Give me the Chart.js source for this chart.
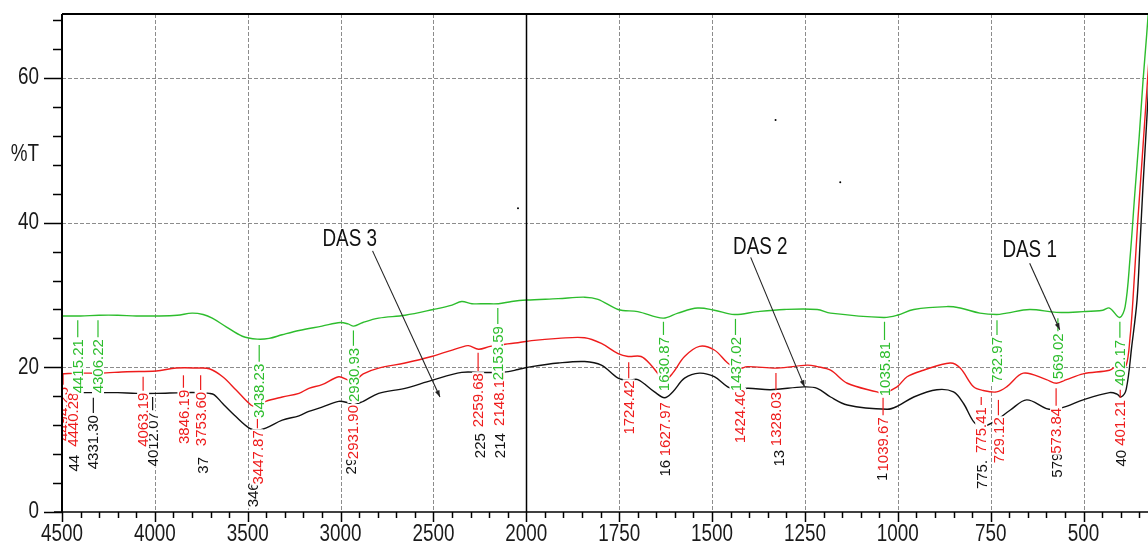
<!DOCTYPE html>
<html>
<head>
<meta charset="utf-8">
<script src="https://cdn.jsdelivr.net/npm/chart.js@4.4.1/dist/chart.umd.min.js"></script>
<style>
  html, body { margin: 0; padding: 0; background: #fff; overflow: hidden; }
  #wrap { width: 1170px; height: 548px; }
</style>
</head>
<body>
<div id="wrap"><canvas id="ftir" width="1170" height="548"></canvas></div>
<script>
// axis: 4500-2000 on the left half, 2000-end at double scale on the right
const X_START = 4500, X_BREAK = 2000, X_END = 278, RIGHT_GAIN = 2;
const Y_MAX = 68.85;
const xTicks = [4500, 4000, 3500, 3000, 2500, 2000, 1750, 1500, 1250, 1000, 750, 500];
const yTicks = [0, 20, 40, 60];

// spectra (wavenumber, %T)
const greenWn = [4500, 4400, 4300, 4200, 4100, 3993, 3880, 3800, 3740, 3691, 3616, 3529, 3449, 3385, 3315, 3224, 3100, 3001, 2960, 2929, 2880, 2795, 2653, 2500, 2400, 2348, 2293, 2221, 2150, 2079, 2000, 1914, 1843, 1807, 1753, 1700, 1632, 1592, 1539, 1494, 1440, 1378, 1306, 1217, 1181, 1038, 1002, 957, 868, 832, 779, 734, 707, 645, 573, 501, 448, 430, 403, 388, 375, 362, 350, 340, 330, 320];
const greenT  = [27.1, 27.1, 27.2, 27.2, 27.1, 27.1, 27.2, 27.5, 27.3, 26.8, 25.6, 24.3, 23.9, 24.0, 24.5, 25.1, 25.7, 26.2, 26.0, 25.7, 26.2, 26.8, 27.2, 28.0, 28.6, 29.1, 28.8, 28.8, 28.8, 29.1, 29.3, 29.5, 29.7, 29.4, 28.0, 27.7, 26.8, 27.5, 28.2, 27.9, 27.3, 27.7, 28.0, 28.0, 27.5, 26.9, 27.2, 28.0, 28.4, 28.2, 27.5, 27.3, 27.5, 28.0, 27.6, 27.7, 27.9, 28.2, 26.9, 28.4, 35, 44, 52, 59.5, 66, 73];

const redWn = [4500, 4400, 4296, 4150, 3993, 3885, 3770, 3707, 3635, 3564, 3483, 3450, 3403, 3314, 3224, 3171, 3100, 3010, 2965, 2930, 2878, 2795, 2653, 2510, 2348, 2312, 2257, 2195, 2115, 2045, 1986, 1914, 1843, 1798, 1753, 1726, 1691, 1664, 1640, 1625, 1606, 1574, 1534, 1494, 1458, 1430, 1405, 1324, 1244, 1217, 1181, 1136, 1056, 1040, 1002, 975, 931, 859, 832, 796, 770, 734, 707, 662, 600, 573, 546, 501, 430, 412, 400, 385, 375, 367, 355, 342, 330, 318];
const redT  = [19.1, 19.2, 19.2, 19.4, 19.5, 19.9, 19.9, 19.8, 18.7, 16.9, 14.8, 14.6, 15.3, 15.9, 16.4, 17.1, 17.6, 18.7, 18.3, 18.0, 19.1, 19.9, 20.6, 21.5, 22.8, 23.0, 22.5, 22.9, 23.2, 23.4, 23.7, 24.0, 24.1, 23.3, 21.9, 21.5, 21.5, 20.3, 18.8, 18.3, 19.2, 21.5, 22.9, 22.4, 20.6, 19.8, 20.1, 19.9, 20.3, 20.1, 19.6, 17.8, 16.6, 16.4, 17.3, 18.7, 19.6, 20.6, 19.9, 17.3, 16.8, 16.6, 17.3, 19.2, 18.3, 17.8, 18.3, 19.1, 19.6, 20.1, 19.8, 20.3, 24, 29.3, 39.4, 49, 58, 67];

const blackWn = [4500, 4400, 4300, 4200, 4100, 3993, 3850, 3760, 3707, 3680, 3635, 3564, 3492, 3450, 3403, 3314, 3224, 3171, 3100, 3010, 2960, 2930, 2878, 2795, 2653, 2510, 2348, 2250, 2150, 2097, 2045, 1986, 1914, 1843, 1798, 1753, 1724, 1700, 1655, 1628, 1606, 1574, 1534, 1494, 1458, 1430, 1405, 1342, 1253, 1217, 1181, 1136, 1029, 1002, 957, 895, 850, 823, 796, 775, 740, 697, 653, 600, 578, 546, 501, 430, 410, 399, 385, 370, 356, 348, 340, 330, 318];
const blackT  = [16.5, 16.5, 16.5, 16.5, 16.4, 16.4, 16.5, 16.5, 16.4, 16.2, 15.0, 13.2, 11.6, 11.3, 11.6, 12.7, 13.3, 13.9, 14.5, 15.3, 15.1, 14.8, 15.3, 16.4, 17.1, 18.2, 19.3, 19.3, 19.3, 19.4, 19.7, 20.1, 20.6, 20.8, 20.3, 18.5, 18.2, 18.3, 16.6, 15.8, 16.6, 18.5, 19.2, 18.7, 17.3, 16.8, 17.1, 16.9, 17.3, 17.1, 15.9, 14.8, 14.2, 14.6, 15.9, 16.9, 16.6, 15.0, 12.5, 11.8, 12.5, 14.1, 15.5, 14.3, 14.2, 14.6, 15.5, 16.5, 16.3, 15.9, 17, 23, 29.3, 37, 45, 54, 65];

// peak labels (as printed)
const greenPeaks = ['4415.21', '4306.22', '3438.23', '2930.93', '2153.59', '1630.87', '1437.02', '1035.81', '732.97', '569.02', '402.17'];
const redPeaks = ['4494.25', '4440.28', '4063.19', '3846.19', '3753.60', '3447.87', '2931.90', '2259.68', '2148.12', '1724.42', '1627.97', '1424.40', '1328.03', '1039.67', '775.41', '729.12', '573.84', '401.21'];
const blackPeakWn = [4434, 4331.30, 4012.07, 3743, 3471, 2945, 2250, 2143, 1627, 1320, 1042, 774, 573, 399];
const blackPeaks = ['44', '4331.30', '4012.07', '37', '346', '29', '225', '214', '16', '13', '10', '775.', '579', '40'];

// label placement: [tick top, text top] in %T
const greenPlace = [[26.5, 23.9], [26.5, 23.9], [23.1, 20.5], [25.1, 22.7], [28.2, 25.7], [26.3, 24.2], [26.7, 24.2], [26.3, 23.5], [26.5, 24.2], [26.8, 24.7], [26.3, 23.8]];
const redPlace = [[19.2, 17.3], [18.8, 16.5], [18.7, 16.5], [18.9, 16.9], [18.9, 16.6], [13.4, 11.3], [14.8, 14.8], [22.0, 19.2], [19.4, 19.4], [20.7, 18.2], [15.2, 15.2], [17.0, 17.0], [19.2, 16.6], [15.8, 13.1], [15.9, 14.5], [15.5, 13.1], [17.1, 14.4], [16.9, 15.5]];
const blackPlace = [[7.9, 7.9], [15.8, 13.4], [15.9, 13.8], [7.6, 7.6], [4.1, 4.1], [7.5, 7.5], [10.9, 10.9], [10.9, 10.9], [7.2, 7.2], [8.6, 8.6], [6.6, 6.6], [7.2, 7.2], [8.2, 8.2], [8.6, 8.6]];

// sample call-outs: text centre, arrow start, arrow end (wavenumber, %T)
const dasText = ['DAS 3', 'DAS 2', 'DAS 1'];
const dasAt = [[2951, 37.7], [1370, 36.5], [645, 36.2]];
const dasFrom = [[2828, 36.1], [1396, 35.2], [645, 34.4]];
const dasTo = [[2465, 15.9], [1251, 17.3], [564, 25.2]];

const speckWn = [2045, 1329, 1155];
const speckT = [42.0, 54.2, 45.6];

const SANS = "'Liberation Sans', Arial, sans-serif";
const GREEN = '#2dbd2d', RED = '#ee1c1c', BLACK = '#111111';

class BrokenScale extends Chart.LinearScale {
    virt(v) {
        return v >= X_BREAK ? (X_START - v) : (X_START - X_BREAK) + (X_BREAK - v) * RIGHT_GAIN;
    }
    getPixelForValue(v) {
        return this.getPixelForDecimal(this.virt(v) / this.virt(X_END));
    }
    getValueForPixel(p) {
        const t = this.getDecimalForPixel(p) * this.virt(X_END);
        const l = X_START - X_BREAK;
        return t <= l ? X_START - t : X_BREAK - (t - l) / RIGHT_GAIN;
    }
}
BrokenScale.id = 'broken';
BrokenScale.defaults = Chart.LinearScale.defaults;
Chart.register(BrokenScale);

const pts = (wn, t) => wn.map((w, i) => ({ x: w, y: t[i] }));

function seg(ctx, x1, y1, x2, y2) {
    ctx.beginPath(); ctx.moveTo(x1, y1); ctx.lineTo(x2, y2); ctx.stroke();
}

// Arial-Narrow look: squeeze Liberation Sans horizontally
function narrow(ctx, text, px, py, align) {
    ctx.save();
    ctx.translate(px, py);
    ctx.scale(0.82, 1);
    ctx.textAlign = align;
    ctx.textBaseline = 'middle';
    ctx.fillText(text, 0, 0);
    ctx.restore();
}

function peakLabel(ctx, x, y, wn, text, place, color) {
    const px = x.getPixelForValue(wn);
    const tickTop = y.getPixelForValue(place[0]);
    const textTop = y.getPixelForValue(place[1]);
    const w = ctx.measureText(text).width;
    ctx.fillStyle = '#fff';
    ctx.fillRect(px - 6, textTop - 1, 12, w + 2);
    if (textTop - tickTop > 3) {
        ctx.strokeStyle = color; ctx.lineWidth = 1.2;
        seg(ctx, px, tickTop, px, textTop - 2);
    }
    ctx.save();
    ctx.translate(px, textTop);
    ctx.rotate(-Math.PI / 2);
    ctx.fillStyle = color;
    ctx.textAlign = 'right';
    ctx.textBaseline = 'middle';
    ctx.fillText(text, 0, 1);
    ctx.restore();
}

const overlay = {
    id: 'overlay',
    beforeDatasetsDraw(chart) {
        const { ctx, chartArea: a, scales: { x, y } } = chart;
        ctx.save();
        ctx.strokeStyle = '#8c8c8c';
        ctx.lineWidth = 1;
        ctx.setLineDash([4, 2]);
        xTicks.forEach(v => {
            if (v === X_START || v === X_BREAK) return;
            const px = Math.round(x.getPixelForValue(v)) + 0.5;
            seg(ctx, px, a.top, px, a.bottom);
        });
        yTicks.forEach(v => {
            if (v === 0) return;
            const py = Math.round(y.getPixelForValue(v)) + 0.5;
            seg(ctx, a.left, py, a.right, py);
        });
        ctx.restore();
    },
    afterDatasetsDraw(chart) {
        const { ctx, chartArea: a, scales: { x, y } } = chart;
        ctx.save();
        ctx.beginPath();
        ctx.rect(a.left, a.top, a.right - a.left, a.bottom - a.top);
        ctx.clip();
        ctx.font = '15px ' + SANS;
        blackPeaks.forEach((t, i) => peakLabel(ctx, x, y, blackPeakWn[i], t, blackPlace[i], BLACK));
        redPeaks.forEach((t, i) => peakLabel(ctx, x, y, parseFloat(t), t, redPlace[i], RED));
        greenPeaks.forEach((t, i) => peakLabel(ctx, x, y, parseFloat(t), t, greenPlace[i], GREEN));

        // call-outs
        ctx.font = '23px ' + SANS;
        dasText.forEach((t, i) => {
            ctx.fillStyle = BLACK;
            narrow(ctx, t, x.getPixelForValue(dasAt[i][0]), y.getPixelForValue(dasAt[i][1]), 'center');
            const x1 = x.getPixelForValue(dasFrom[i][0]), y1 = y.getPixelForValue(dasFrom[i][1]);
            const x2 = x.getPixelForValue(dasTo[i][0]), y2 = y.getPixelForValue(dasTo[i][1]);
            ctx.strokeStyle = '#222'; ctx.lineWidth = 1.1;
            seg(ctx, x1, y1, x2, y2);
            const ang = Math.atan2(y2 - y1, x2 - x1);
            ctx.fillStyle = '#222';
            ctx.beginPath();
            ctx.moveTo(x2, y2);
            ctx.lineTo(x2 - 7 * Math.cos(ang - 0.35), y2 - 7 * Math.sin(ang - 0.35));
            ctx.lineTo(x2 - 7 * Math.cos(ang + 0.35), y2 - 7 * Math.sin(ang + 0.35));
            ctx.closePath();
            ctx.fill();
        });
        ctx.restore();

        // frame, break line and ticks
        ctx.save();
        ctx.strokeStyle = '#000';
        const pb = Math.round(x.getPixelForValue(X_BREAK)) + 0.5;
        ctx.lineWidth = 1.5;
        seg(ctx, pb, a.top, pb, a.bottom);
        ctx.lineWidth = 2;
        seg(ctx, a.left, a.top, a.right, a.top);
        seg(ctx, a.left, a.top, a.left, a.bottom + 1);
        ctx.lineWidth = 1.5;
        seg(ctx, a.left - 8, a.bottom, a.right, a.bottom);
        for (let v = 0; v <= Y_MAX; v += 4) {
            const py = Math.round(y.getPixelForValue(v)) + 0.5;
            const len = v % 20 === 0 ? 18 : 9;
            seg(ctx, a.left - len, py, a.left, py);
        }
        for (let v = X_START; v >= X_END; v -= (v > X_BREAK ? 100 : 50)) {
            const px = Math.round(x.getPixelForValue(v)) + 0.5;
            const len = xTicks.includes(v) ? 10 : 6;
            seg(ctx, px, a.bottom, px, a.bottom + len);
        }

        // tick labels at the library's tick positions
        ctx.font = '23px ' + SANS;
        ctx.fillStyle = '#1a1a1a';
        x.ticks.forEach((t, i) => narrow(ctx, x.getLabelForValue ? String(t.value) : '', x.getPixelForTick(i), a.bottom + 23, 'center'));
        y.ticks.forEach((t, i) => narrow(ctx, String(t.value), a.left - 23, y.getPixelForTick(i), 'right'));
        narrow(ctx, '%T', a.left - 23, y.getPixelForValue(49.4), 'right');
        ctx.restore();
    }
};

new Chart(document.getElementById('ftir'), {
    type: 'line',
    data: {
        datasets: [
            { data: pts(blackWn, blackT), borderColor: BLACK, borderWidth: 1.4, pointRadius: 0, tension: 0.35 },
            { data: pts(redWn, redT), borderColor: RED, borderWidth: 1.4, pointRadius: 0, tension: 0.35 },
            { data: pts(greenWn, greenT), borderColor: GREEN, borderWidth: 1.4, pointRadius: 0, tension: 0.35 },
            { type: 'scatter', data: pts(speckWn, speckT), pointRadius: 1, backgroundColor: '#000', borderWidth: 0 }
        ]
    },
    options: {
        responsive: false,
        animation: false,
        layout: { padding: { top: 14, right: 0, left: 0, bottom: 0 } },
        plugins: { legend: { display: false }, tooltip: { enabled: false } },
        scales: {
            x: {
                type: 'broken',
                min: X_END,
                max: X_START,
                afterBuildTicks: s => { s.ticks = xTicks.map(v => ({ value: v })); },
                afterFit: s => { s.height = 36; s.paddingLeft = 0; s.paddingRight = 0; },
                grid: { display: false, drawTicks: false },
                border: { display: false },
                ticks: { display: false, autoSkip: false, maxRotation: 0, minRotation: 0 }
            },
            y: {
                min: 0,
                max: Y_MAX,
                afterBuildTicks: s => { s.ticks = yTicks.map(v => ({ value: v })); },
                afterFit: s => { s.width = 62; s.paddingTop = 0; s.paddingBottom = 0; },
                grid: { display: false, drawTicks: false },
                border: { display: false },
                ticks: { display: false }
            }
        }
    },
    plugins: [overlay]
});
</script>
</body>
</html>
